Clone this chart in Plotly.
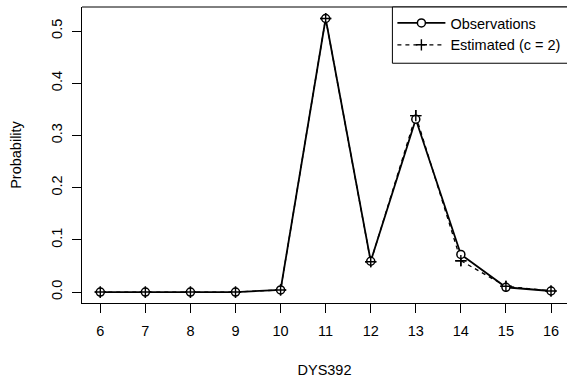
import plotly.graph_objects as go

alleles = [6, 7, 8, 9, 10, 11, 12, 13, 14, 15, 16]
observed = [0.0, 0.0, 0.0, 0.0, 0.004, 0.524, 0.059, 0.331, 0.072, 0.009, 0.002]
estimated = [0.0, 0.0, 0.0, 0.0, 0.004, 0.524, 0.058, 0.338, 0.060, 0.011, 0.002]
y_ticks = [0.0, 0.1, 0.2, 0.3, 0.4, 0.5]
y_tick_labels = ["0.0", "0.1", "0.2", "0.3", "0.4", "0.5"]

FONT = "Liberation Sans, Arial, Helvetica, sans-serif"
FS = 14.5

fig = go.Figure()
# Estimated (dashed line + plus) drawn first
fig.add_trace(go.Scatter(
    x=alleles, y=estimated, mode="lines+markers", name="Estimated (c = 2)",
    line=dict(color="black", width=1.3, dash="4px,4px"),
    marker=dict(symbol="cross-thin", size=8, line=dict(color="black", width=1.4)),
))
# Observations (solid line + open circles)
fig.add_trace(go.Scatter(
    x=alleles, y=observed, mode="lines+markers", name="Observations",
    line=dict(color="black", width=1.8),
    marker=dict(symbol="circle", size=8, color="white", line=dict(color="black", width=1.5)),
))
# redraw plus markers on top
fig.add_trace(go.Scatter(
    x=alleles, y=estimated, mode="markers", showlegend=False,
    marker=dict(symbol="cross-thin", size=8, line=dict(color="black", width=1.4)),
))

fig.update_layout(
    width=567, height=378,
    margin=dict(l=82, r=0, t=7, b=75),
    paper_bgcolor="white", plot_bgcolor="white",
    font=dict(family=FONT, size=FS, color="black"),
    showlegend=True,
    legend=dict(x=0.64, xanchor="left", y=1, yanchor="top",
                borderwidth=0, bgcolor="rgba(0,0,0,0)",
                traceorder="reversed", font=dict(size=FS),
                itemwidth=48, tracegroupgap=0),
    shapes=[
        dict(type="line", xref="paper", yref="paper", x0=0, x1=1.01, y0=1, y1=1,
             line=dict(color="black", width=1)),
        # legend box, extending past the right edge like the original
        dict(type="rect", xref="paper", yref="paper", x0=0.64, x1=1.03, y0=0.81, y1=1,
             line=dict(color="black", width=1), fillcolor="white", layer="above"),
    ],
)
fig.update_xaxes(
    range=[5.594, 16.355], tickmode="array", tickvals=alleles,
    ticks="outside", ticklen=9, tickcolor="black", tickwidth=1,
    showline=True, linecolor="black", linewidth=1, mirror=False,
    showgrid=False, zeroline=False,
    title=dict(text="DYS392", standoff=26, font=dict(size=FS)),
    ticklabelstandoff=6,
)
fig.update_yaxes(
    range=[-0.021, 0.546], tickmode="array", tickvals=y_ticks, ticktext=y_tick_labels,
    ticks="outside", ticklen=9, tickcolor="black", tickwidth=1, tickangle=-90,
    showline=True, linecolor="black", linewidth=1,
    showgrid=False, zeroline=False,
    title=dict(text="Probability", standoff=24, font=dict(size=FS)),
    ticklabelstandoff=4,
)

fig.write_html("out.html")
